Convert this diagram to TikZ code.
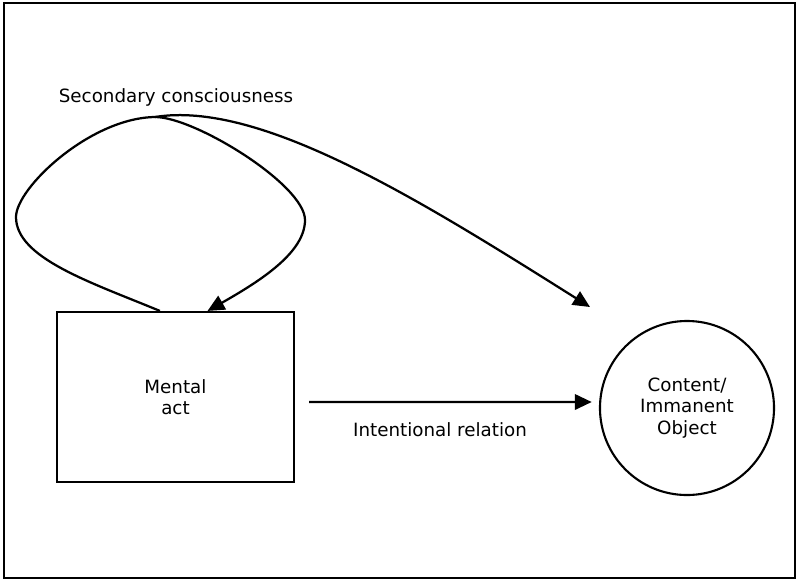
\documentclass[tikz,border=0pt]{standalone}
\usepackage{fontspec}
\setmainfont{DejaVu Sans}
\usetikzlibrary{arrows.meta, positioning}

\begin{document}
\begin{tikzpicture}[x=0.025cm, y=-0.025cm,
        every node/.style={font=\fontsize{13}{15.3}\selectfont, align=center},
        box/.style={draw, line width=1.5pt, minimum width=5.925cm, minimum height=4.25cm},
        blob/.style={draw, circle, line width=1.5pt, minimum size=4.35cm},
        link/.style={line width=1.6pt, -{Triangle[length=12pt, width=11pt]}}]
        \useasboundingbox (0,0) rectangle (797,581);
        \draw[line width=1.5pt] (4,3) rectangle (795,578);
        \node[box] (act) at (175.5,397) {Mental\\act};
        \node[blob] (obj) at (687,408) {Content/\\Immanent\\Object};
        \node (sec) at (176,97) {Secondary consciousness};
        \node (rel) at (440,430) {Intentional relation};
        \coordinate (apex) at (155,117);
        \coordinate (aim) at (590,307);
        \draw[link, shorten <=0.35cm, shorten >=0.18cm]
        ([yshift=-0.125cm]act.east) -- ([yshift=0.15cm]obj.west);
        \draw[link] ([xshift=-0.39cm]act.north) .. controls (90,282) and (16,258) .. (16,217)
        .. controls (16,188) and (90,118) .. (apex)
        .. controls (195,117) and (305,185) .. (305,220)
        .. controls (305,252) and (262,280) .. ([xshift=0.8cm]act.north);
        \draw[link] (apex) .. controls (260,100) and (420,200) .. (aim);
    \end{tikzpicture}
\end{document}
